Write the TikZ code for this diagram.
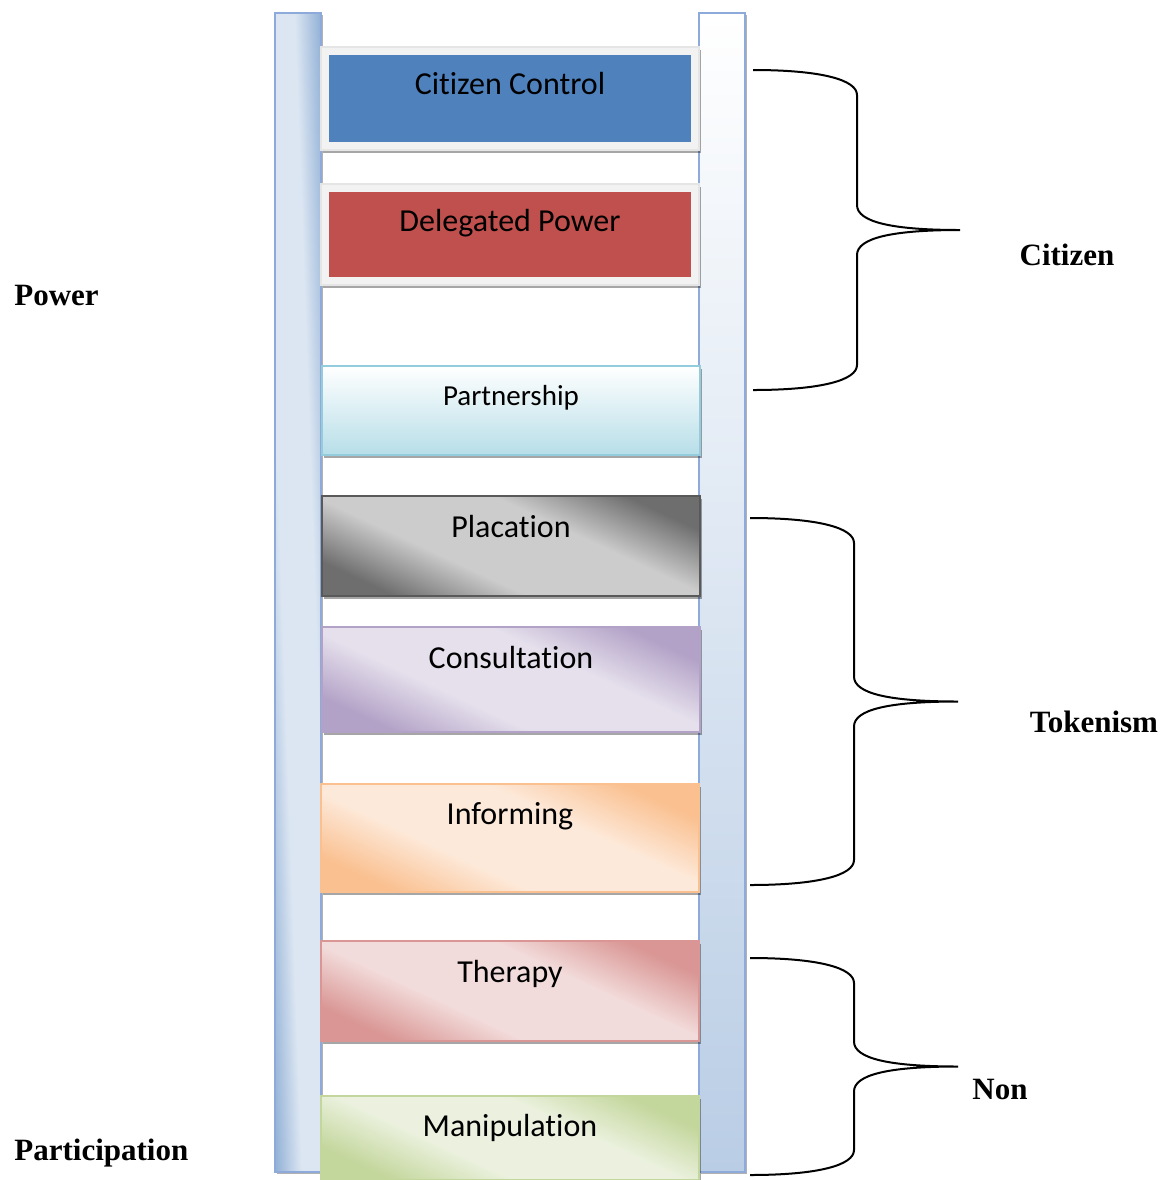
\documentclass[tikz,border=0pt]{standalone}
\usepackage{fontspec}
\setmainfont{Liberation Serif}
\newfontfamily\rungfont[Ligatures=NoCommon]{Carlito}
\usetikzlibrary{shadows}

\definecolor{railblue}{HTML}{95B3D7}
\definecolor{raillight}{HTML}{DCE6F2}
\definecolor{railedge}{HTML}{8EAADB}
\definecolor{railbottom}{HTML}{B9CDE5}
\definecolor{ccblue}{HTML}{4F81BD}
\definecolor{dpred}{HTML}{C0504D}
\definecolor{paaqua}{HTML}{B7DEE8}
\definecolor{paedge}{HTML}{93CDDD}
\definecolor{pldark}{HTML}{6E6E6E}
\definecolor{pllight}{HTML}{CCCCCC}
\definecolor{coviolet}{HTML}{B3A2C7}
\definecolor{colight}{HTML}{E5E0EC}
\definecolor{inorange}{HTML}{FAC090}
\definecolor{inlight}{HTML}{FDE9D9}
\definecolor{thred}{HTML}{D99694}
\definecolor{thlight}{HTML}{F2DCDB}
\definecolor{magreen}{HTML}{C3D69B}
\definecolor{malight}{HTML}{EBF1DE}

% dark corners, broad light band
\colorlet{rungdark}{gray}
\colorlet{runglight}{white}
\pgfdeclareverticalshading[rungdark,runglight]{rungshade}{100bp}{color(0bp)=(rungdark);
  color(25bp)=(rungdark); color(40bp)=(runglight); color(60bp)=(runglight);
  color(75bp)=(rungdark); color(100bp)=(rungdark)}

\begin{document}
\begin{tikzpicture}[x=0.5pt, y=-0.5pt,
    rung/.style = {anchor=north, minimum width=189pt, inner sep=0pt, outer sep=0pt,
      font=\rungfont\fontsize{16}{19}\selectfont,
      drop shadow={shadow xshift=1.2pt, shadow yshift=-1.5pt, fill=black, opacity=.35}},
    boxedrung/.style = {rung, fill=black!5, draw=black!10, line width=.6pt,
      path picture={\fill[#1] ([shift={(4pt,-4pt)}]path picture bounding box.north west)
        rectangle ([shift={(-4pt,4pt)}]path picture bounding box.south east);}},
    tintrung/.style 2 args = {rung, draw=#1, line width=.8pt,
      /utils/exec={\colorlet{rungdark}{#1}\colorlet{runglight}{#2}},
      shading=rungshade, shading angle=-25},
    rail/.style = {minimum width=23pt, minimum height=579.5pt, inner sep=0pt,
      draw=railedge, line width=.8pt,
      drop shadow={shadow xshift=1.2pt, shadow yshift=-1.2pt, fill=black, opacity=.3}},
    grouplabel/.style = {inner sep=0pt, font=\bfseries\fontsize{15.5}{18}\selectfont},
    brace/.style = {line width=1pt}]
  \useasboundingbox (0,0) rectangle (1167,1180);

  % ladder rails
  \node[rail, /utils/exec={\colorlet{rungdark}{railblue}\colorlet{runglight}{raillight}},
        shading=rungshade, shading angle=92] (lrail) at (298,592.5) {};
  \node[rail, top color=white, bottom color=railbottom] (rrail) at (722,592.5) {};

  % rungs, top to bottom
  \node[boxedrung=ccblue, text height=23.5pt, text depth=28pt] (cc) at (510,47) {Citizen Control};
  \node[boxedrung=dpred, text height=23.5pt, text depth=27pt] (dp) at (510,184) {Delegated Power};
  \node[rung, draw=paedge, line width=.8pt, top color=white, bottom color=paaqua,
        font=\rungfont\fontsize{14.5}{17}\selectfont,
        text height=19.5pt, text depth=25pt] (pa) at (511,366) {Partnership};
  \node[tintrung={pldark}{pllight}, draw=black!65, text height=20.5pt, text depth=29.5pt] (pl) at (511,496) {Placation};
  \node[tintrung={coviolet}{colight}, text height=20.5pt, text depth=32pt] (co) at (511,627) {Consultation};
  \node[tintrung={inorange}{inlight}, text height=20pt, text depth=34pt] (inform) at (510,784) {Informing};
  \node[tintrung={thred}{thlight}, text height=20.5pt, text depth=29.5pt] (th) at (510,941) {Therapy};
  \node[tintrung={magreen}{malight}, text height=20pt, text depth=22pt] (ma) at (510,1096) {Manipulation};

  % braces
  \foreach \xs/\yt/\yb/\xm/\xt in {753/70/390/857/960, 750/518/885/854/958, 750/958/1175/854/958}{
    \pgfmathsetmacro\ym{(\yt+\yb)/2}
    \draw[brace] (\xs,\yt) .. controls (\xm-35,\yt) and (\xm,\yt+10) .. (\xm,\yt+25)
      -- (\xm,\ym-25) .. controls (\xm,\ym-8) and (\xm+35,\ym) .. (\xt,\ym)
      .. controls (\xm+35,\ym) and (\xm,\ym+8) .. (\xm,\ym+25)
      -- (\xm,\yb-25) .. controls (\xm,\yb-10) and (\xm-35,\yb) .. (\xs,\yb);
  }

  % labels
  \node[grouplabel, anchor=west] (power) at (14,295) {Power};
  \node[grouplabel, anchor=west] (participation) at (14,1153) {Participation};
  \node[grouplabel] (citizen) at (1067,255) {Citizen};
  \node[grouplabel] (tokenism) at (1094,722) {Tokenism};
  \node[grouplabel] (non) at (1000,1089) {Non};
\end{tikzpicture}
\end{document}
